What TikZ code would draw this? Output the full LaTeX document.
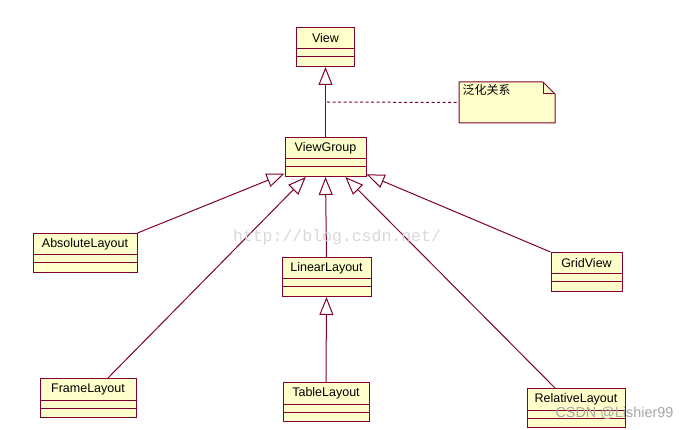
\documentclass[tikz,border=0pt]{standalone}
\usepackage{fontspec}
\setmainfont{Liberation Sans}
\newfontfamily\cjk{Noto Sans CJK SC}
\newfontfamily\wmono{Liberation Mono}
\usetikzlibrary{arrows.meta}
\definecolor{umlline}{RGB}{128,0,48}
\definecolor{umlfill}{RGB}{255,255,204}
\tikzset{
  cls/.style={draw=umlline,fill=umlfill,minimum height=39pt,inner sep=0pt,anchor=north},
  gen/.style={draw=umlline,-{Triangle[length=18pt,width=14pt,fill=white]}},
  clsname/.style={font=\fontsize{12.5}{14}\selectfont,inner sep=0pt}
}
\newcommand{\umlclass}[5]{%
  \node[cls,minimum width=#4pt] (#1) at (#2,#3) {};
  \draw[umlline] ([yshift=-22pt]#1.north west) -- ([yshift=-22pt]#1.north east);
  \draw[umlline] ([yshift=-30pt]#1.north west) -- ([yshift=-30pt]#1.north east);
  \node[clsname] (#1-name) at ([yshift=-11pt]#1.north) {#5};
}
\begin{document}
\begin{tikzpicture}[x=1pt,y=-1pt,line join=miter,line width=1pt]
  \useasboundingbox[fill=white] (0,0) rectangle (688,430);
  \umlclass{view}{325.5}{27}{58}{View}
  \umlclass{viewgroup}{325.5}{137}{81}{ViewGroup}
  \umlclass{absolute}{85}{233}{104}{AbsoluteLayout}
  \umlclass{linear}{326.5}{257}{89}{LinearLayout}
  \umlclass{grid}{586.5}{252}{71}{GridView}
  \umlclass{frame}{88}{378}{96}{FrameLayout}
  \umlclass{table}{326}{382}{86}{TableLayout}
  \umlclass{relative}{576}{388}{98}{RelativeLayout}
  \draw[gen] (viewgroup.north) -- (view.south);
  \draw[gen] (absolute.north east) -- (viewgroup);
  \draw[gen] ([xshift=20pt]frame.north) -- (viewgroup);
  \draw[gen] (linear.north) -- (viewgroup.south);
  \draw[gen] ([xshift=-21pt]relative.north) -- (viewgroup);
  \draw[gen] (grid.north west) -- (viewgroup);
  \draw[gen] (table.north) -- (linear.south);
  \node[minimum width=95pt,minimum height=40pt,inner sep=0pt,anchor=north west] (note) at (459,82) {};
  \fill[umlfill] (note.north west) -- ([xshift=-12pt]note.north east)
    -- ([yshift=-12pt]note.north east) -- (note.south east) -- (note.south west) -- cycle;
  \draw[umlline] (note.north west) -- ([xshift=-12pt]note.north east)
    -- ([yshift=-12pt]note.north east) -- (note.south east) -- (note.south west) -- cycle;
  \draw[umlline] ([xshift=-12pt]note.north east) |- ([yshift=-12pt]note.north east);
  \node[font=\cjk\fontsize{12}{14}\selectfont,inner sep=0pt,anchor=north west] (note-text) at (462,84) {泛化关系};
  \coordinate (gen-link) at (327,102);
  \draw[umlline,dash pattern=on 3pt off 2.5pt] (gen-link) -- (note.west);
  \node[font=\wmono\fontsize{16.5}{18}\selectfont,text=black!15] (wm-url) at (337,237) {http://blog.csdn.net/};
  \node[font=\fontsize{14.4}{16}\selectfont,text=black!35,anchor=west,inner sep=0pt] (wm-csdn) at (555,413) {CSDN @Lishier99};
\end{tikzpicture}
\end{document}
